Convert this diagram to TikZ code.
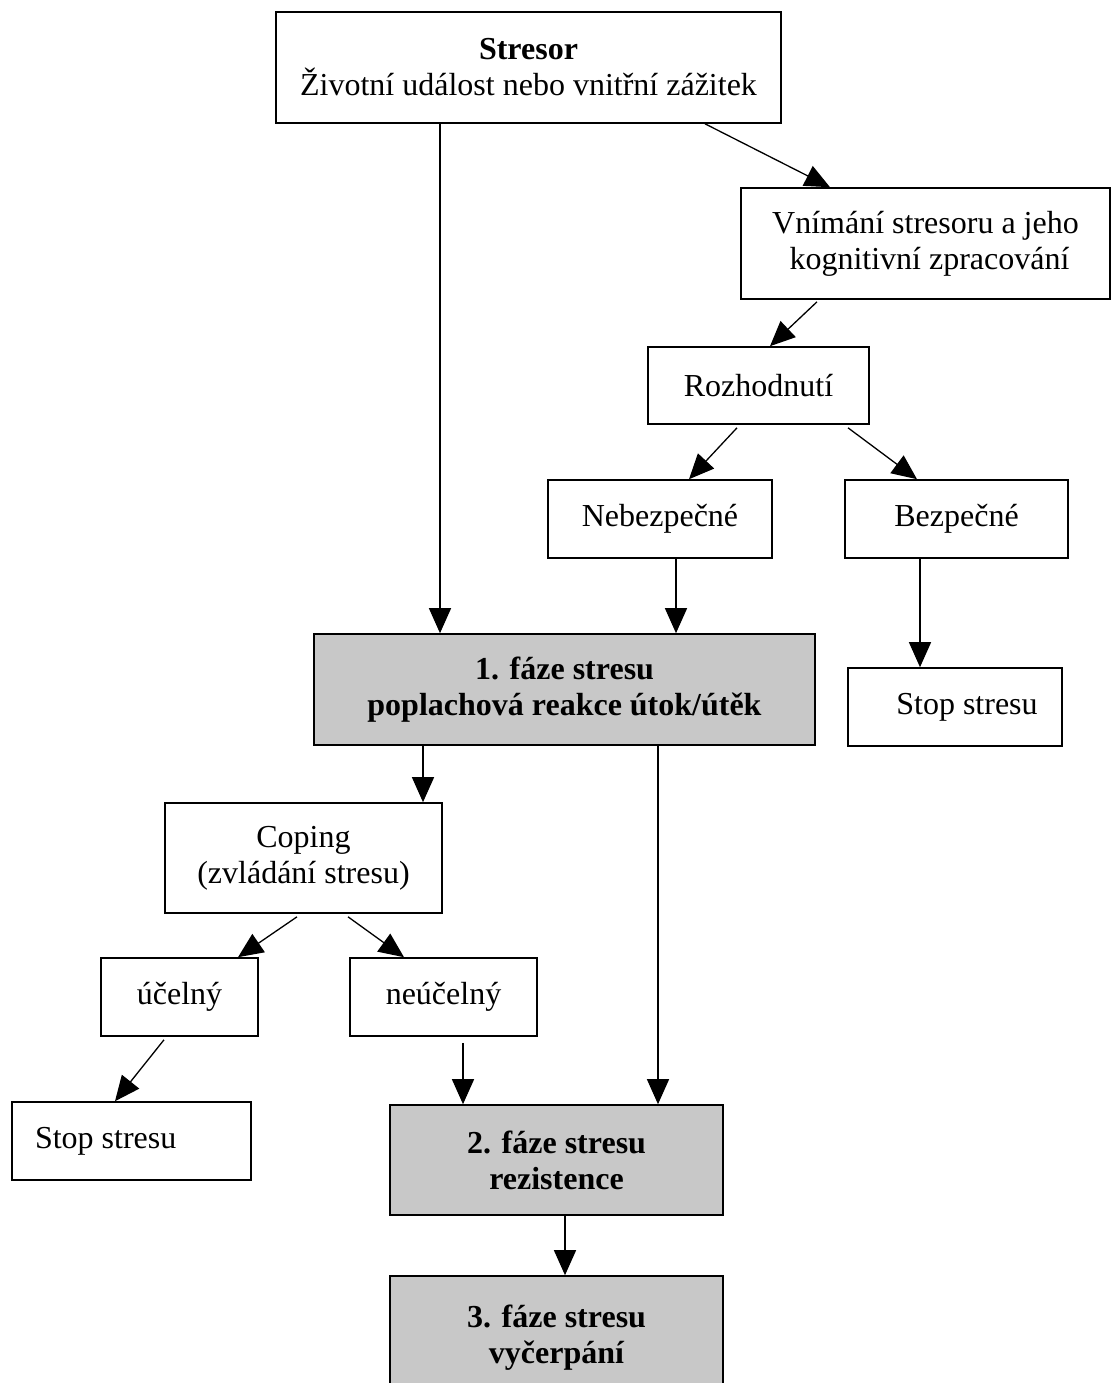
\documentclass[tikz,border=0pt]{standalone}
\usepackage{fontspec}
\setmainfont{Liberation Serif}
\usetikzlibrary{arrows.meta}
\definecolor{phasegray}{RGB}{200,200,200}
\begin{document}
\begin{tikzpicture}[x=1pt,y=-1pt,
  box/.style={draw=black,line width=1.6pt,inner sep=0pt,align=center,
    font=\fontsize{32}{36}\selectfont},
  phase/.style={box,fill=phasegray,font=\fontsize{32}{36}\selectfont\bfseries},
  conn/.style={line width=1.3pt,-{Triangle[width=22pt,length=25pt]}}]
\path[use as bounding box,clip] (0,0) rectangle (1111,1383);
\fill[white] (0,0) rectangle (1111,1383);
% boxes
\node[box,minimum width=505pt,minimum height=111pt] (stres) at (528.5,67.5)
  {\textbf{Stresor}\\Životní událost nebo vnitřní zážitek};
\node[box,minimum width=369pt,minimum height=111pt] (vnim) at (925.5,243.5)
  {Vnímání stresoru a jeho\\\ kognitivní zpracování};
\node[box,minimum width=221pt,minimum height=77pt] (rozh) at (758.5,385.5) {Rozhodnutí};
\node[box,minimum width=224pt,minimum height=78pt] (nebe) at (660,519) {Nebezpečné};
\node[box,minimum width=223pt,minimum height=78pt] (bezp) at (956.5,519) {Bezpečné};
\node[phase,minimum width=501pt,minimum height=111pt] (faze1) at (564.5,689.5)
  {1. fáze stresu\\poplachová reakce útok/útěk};
\node[box,minimum width=214pt,minimum height=78pt] (stopR) at (955,707) {\hspace{24pt}Stop stresu};
\node[box,minimum width=277pt,minimum height=110pt] (coping) at (303.5,858)
  {Coping\\(zvládání stresu)};
\node[box,minimum width=157pt,minimum height=78pt] (ucel) at (179.5,997) {účelný};
\node[box,minimum width=187pt,minimum height=78pt] (neucel) at (443.5,997) {neúčelný};
\node[box,minimum width=239pt,minimum height=78pt] (stopL) at (131.5,1141)
  {\makebox[193pt][l]{Stop stresu}};
\node[phase,minimum width=333pt,minimum height=110pt] (faze2) at (556.5,1160)
  {2. fáze stresu\\rezistence};
\node[phase,minimum width=333pt,minimum height=124pt] (faze3) at (556.5,1338)
  {3. fáze stresu\\vyčerpání};
% connectors
\draw[conn] ([xshift=-88.5pt]stres.south) -- ([xshift=-124.5pt]faze1.north);
\draw[conn] ([xshift=176.5pt]stres.south) -- ([xshift=-95.5pt]vnim.north);
\draw[conn] ([xshift=-108.5pt,yshift=-2pt]vnim.south) -- ([xshift=11.5pt]rozh.north);
\draw[conn] ([xshift=-21.5pt,yshift=-3pt]rozh.south) -- ([xshift=29pt]nebe.north);
\draw[conn] ([xshift=89.5pt,yshift=-3pt]rozh.south) -- ([xshift=-39.5pt]bezp.north);
\draw[conn] ([xshift=16pt]nebe.south) -- ([xshift=111.5pt]faze1.north);
\draw[conn] ([xshift=-36.5pt]bezp.south) -- ([xshift=-35pt]stopR.north);
\draw[conn] ([xshift=-141.5pt]faze1.south) -- ([xshift=119.5pt]coping.north);
\draw[conn] ([xshift=93.5pt]faze1.south) -- ([xshift=101.5pt]faze2.north);
\draw[conn] ([xshift=-6.5pt,yshift=-3pt]coping.south) -- ([xshift=58.5pt]ucel.north);
\draw[conn] ([xshift=44.5pt,yshift=-3pt]coping.south) -- ([xshift=-39.5pt]neucel.north);
\draw[conn] ([xshift=-15.5pt,yshift=-3pt]ucel.south) -- ([xshift=-16.5pt]stopL.north);
\draw[conn] ([xshift=19.5pt,yshift=-6pt]neucel.south) -- ([xshift=-93.5pt]faze2.north);
\draw[conn] ([xshift=8.5pt]faze2.south) -- ([xshift=8.5pt]faze3.north);
\end{tikzpicture}
\end{document}
